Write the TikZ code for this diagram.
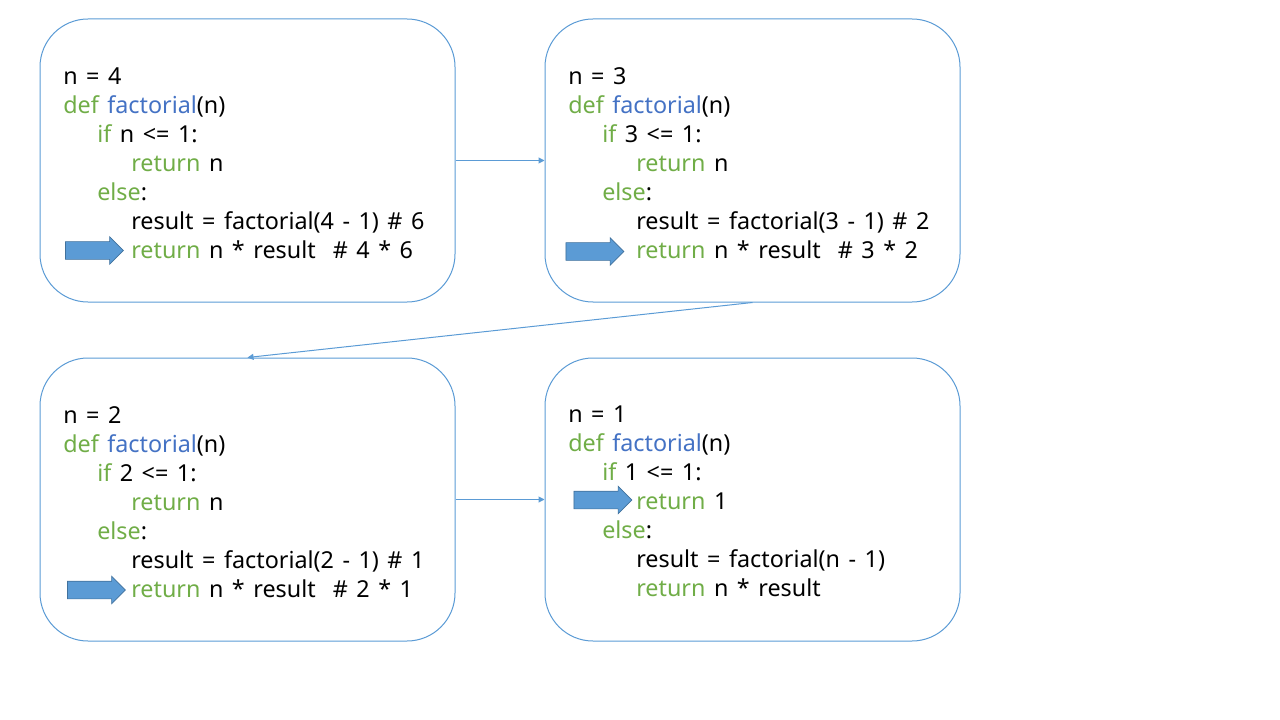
\documentclass[tikz,border=0pt]{standalone}
\usepackage{fontspec}
\setmainfont{Noto Sans}
\usepackage{xcolor}
\usetikzlibrary{arrows.meta,shapes.arrows}

\definecolor{boxline}{HTML}{5B9BD5}
\definecolor{kwgreen}{HTML}{70AD47}
\definecolor{fnblue}{HTML}{4472C4}
\definecolor{arrowedge}{HTML}{41719C}

\newcommand{\kw}[1]{\textcolor{kwgreen}{#1}}
\newcommand{\fn}[1]{\textcolor{fnblue}{#1}}
\newcommand{\tb}{\hspace*{25.5pt}}
\newcommand{\codefont}{\fontsize{17.5}{21.75}\selectfont\setlength{\spaceskip}{6.4pt}}

\tikzset{
  frame/.style={draw=boxline, line width=0.75pt, rounded corners=36pt,
    minimum width=311.25pt, minimum height=212.25pt},
  code/.style={anchor=north west, inner sep=0pt, align=left, font=\codefont},
  pointer/.style={single arrow, draw=arrowedge, fill=boxline, line width=0.5pt,
    minimum height=43.5pt, inner sep=6.375pt, text height=0pt, text depth=0pt,
    text width=0pt, single arrow head extend=3.75pt},
  call/.style={draw=boxline, line width=0.75pt, -{Triangle[length=4.5pt,width=4.5pt]}}
}

\begin{document}
\begin{tikzpicture}[x=0.75pt, y=-0.75pt]
  \useasboundingbox (0,0) rectangle (1280,720);

  % frames
  \node[frame] (f4) at (247.5,160.5) {};
  \node[frame] (f3) at (752.5,160.5) {};
  \node[frame] (f2) at (247.5,499.5) {};
  \node[frame] (f1) at (752.5,499.5) {};

  % code
  \node[code] (t4) at (63,67) {n = 4\\
    \kw{def} \fn{factorial}(n)\\
    \tb\kw{if} n <= 1:\\
    \tb\tb\kw{return} n\\
    \tb\kw{else}:\\
    \tb\tb result = factorial(4 - 1) \# 6\\
    \tb\tb\kw{return} n * result\ \ \# 4 * 6};
  \node[code] (t3) at (568,67) {n = 3\\
    \kw{def} \fn{factorial}(n)\\
    \tb\kw{if} 3 <= 1:\\
    \tb\tb\kw{return} n\\
    \tb\kw{else}:\\
    \tb\tb result = factorial(3 - 1) \# 2\\
    \tb\tb\kw{return} n * result\ \ \# 3 * 2};
  \node[code] (t2) at (63,406) {n = 2\\
    \kw{def} \fn{factorial}(n)\\
    \tb\kw{if} 2 <= 1:\\
    \tb\tb\kw{return} n\\
    \tb\kw{else}:\\
    \tb\tb result = factorial(2 - 1) \# 1\\
    \tb\tb\kw{return} n * result\ \ \# 2 * 1};
  \node[code] (t1) at (568,406) {n = 1\\
    \kw{def} \fn{factorial}(n)\\
    \tb\kw{if} 1 <= 1:\\
    \tb\tb\kw{return} 1\\
    \tb\kw{else}:\\
    \tb\tb result = factorial(n - 1)\\
    \tb\tb\kw{return} n * result};

  % current line
  \node[pointer] (p4) at (90,250.5) {};
  \node[pointer] (p3) at (590.5,251.5) {};
  \node[pointer] (p2) at (92,590) {};
  \node[pointer] (p1) at (598.5,500) {};

  % calls
  \draw[call] (f4.east) -- (f3.west);
  \draw[call] (f3.south) -- (f2.north);
  \draw[call] (f2.east) -- (f1.west);
\end{tikzpicture}
\end{document}
